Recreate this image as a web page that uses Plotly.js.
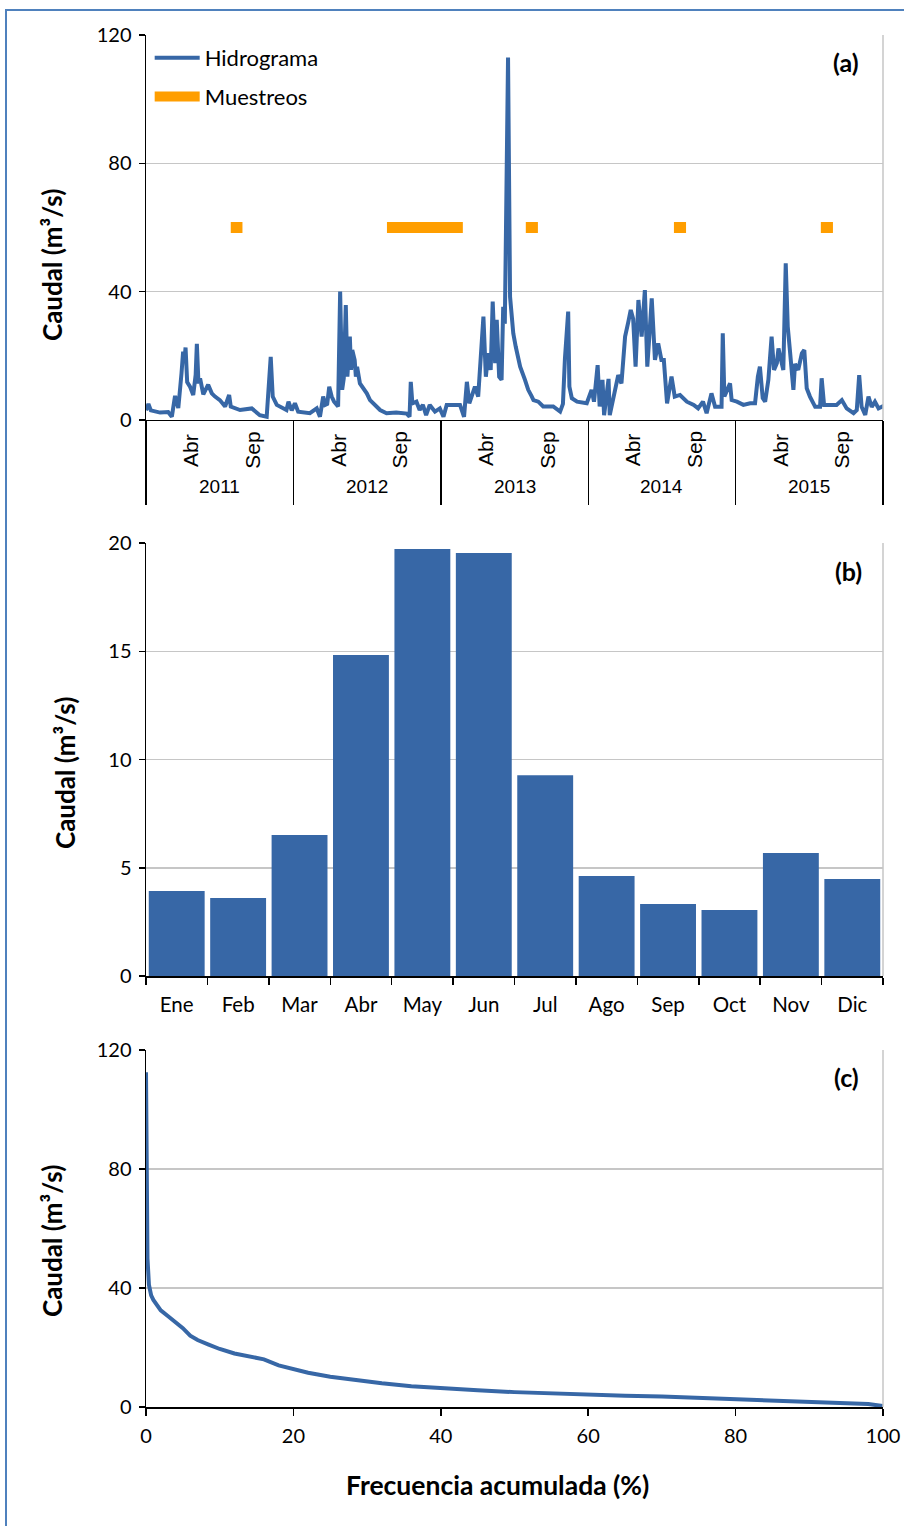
<!DOCTYPE html>
<html>
<head>
<meta charset="utf-8">
<script src="https://cdn.plot.ly/plotly-3.0.1.min.js"></script>
<style>
html,body{margin:0;padding:0;width:904px;height:1526px;overflow:hidden;background:#fff;}
#frame{position:absolute;left:5px;top:9px;width:1000px;height:1700px;border:2.5px solid #4f81bd;box-sizing:border-box;}
#chart{position:absolute;left:0;top:0;width:904px;height:1526px;}
</style>
</head>
<body>
<div id="frame"></div>
<div id="chart"></div>
<script>
// ---------- Panel (a): hidrograma diario ----------
const hydroDate = [
'2011-01-01','2011-01-07','2011-01-13','2011-02-05','2011-02-25','2011-03-06','2011-03-14','2011-03-22','2011-03-30','2011-04-03',
'2011-04-06','2011-04-09','2011-04-13','2011-04-20','2011-04-28','2011-05-04','2011-05-07','2011-05-11','2011-05-15','2011-05-23',
'2011-06-04','2011-06-13','2011-06-21','2011-07-03','2011-07-16','2011-07-26','2011-07-30','2011-08-22','2011-09-20','2011-10-10',
'2011-10-27','2011-11-06','2011-11-11','2011-11-21','2011-12-15','2011-12-20','2011-12-28',
'2012-01-05','2012-01-13','2012-02-11','2012-02-28','2012-03-07','2012-03-15','2012-03-20','2012-03-25','2012-03-30','2012-04-05',
'2012-04-11','2012-04-21','2012-04-26','2012-05-01','2012-05-05','2012-05-10','2012-05-14','2012-05-20','2012-05-23','2012-05-26',
'2012-06-01','2012-06-04','2012-06-07','2012-06-14','2012-07-01','2012-07-09','2012-07-21','2012-08-03','2012-08-19','2012-09-12',
'2012-10-08','2012-10-15','2012-10-18','2012-10-22','2012-11-01','2012-11-09','2012-11-17','2012-11-25','2012-12-04','2012-12-17',
'2012-12-29',
'2013-01-07','2013-01-15','2013-01-31','2013-02-17','2013-02-27','2013-03-06','2013-03-12','2013-03-26','2013-04-03','2013-04-16',
'2013-04-22','2013-04-28','2013-05-04','2013-05-09','2013-05-15','2013-05-19','2013-05-25','2013-05-31','2013-06-04','2013-06-08',
'2013-06-11','2013-06-16','2013-06-21','2013-06-25','2013-06-29','2013-07-05','2013-07-16','2013-07-28','2013-08-05','2013-08-13',
'2013-08-18','2013-08-30','2013-09-11','2013-10-06','2013-10-23','2013-10-30','2013-11-04','2013-11-12','2013-11-15','2013-11-21',
'2013-12-04','2013-12-28',
'2014-01-09','2014-01-15','2014-01-24','2014-01-29','2014-02-05','2014-02-09','2014-02-20','2014-02-23','2014-03-06','2014-03-16',
'2014-03-24','2014-04-02','2014-04-10','2014-04-16','2014-04-22','2014-04-28','2014-05-05','2014-05-13','2014-05-21','2014-05-27',
'2014-06-01','2014-06-07','2014-06-15','2014-06-23','2014-07-01','2014-07-07','2014-07-15','2014-07-26','2014-08-03','2014-08-16',
'2014-09-02','2014-09-19','2014-09-30','2014-10-12','2014-10-21','2014-11-02','2014-11-11','2014-11-27','2014-11-30','2014-12-04',
'2014-12-18','2014-12-22',
'2015-01-04','2015-01-20','2015-02-06','2015-02-18','2015-02-25','2015-03-02','2015-03-09','2015-03-15','2015-03-23','2015-03-31',
'2015-04-06','2015-04-13','2015-04-17','2015-04-23','2015-04-29','2015-05-05','2015-05-10','2015-05-16','2015-05-24','2015-05-28',
'2015-06-05','2015-06-14','2015-06-20','2015-06-26','2015-07-04','2015-07-17','2015-07-29','2015-08-02','2015-08-08','2015-08-23',
'2015-09-08','2015-09-21','2015-10-03','2015-10-20','2015-10-28','2015-11-03','2015-11-09','2015-11-18','2015-11-26','2015-12-04',
'2015-12-12','2015-12-21','2015-12-29','2015-12-31'
];
const hydroQ = [
3,5,3,2.3,2.5,1.0,7.5,3.7,14.6,21.3,
18,22.6,11.8,10.4,7.8,14,23.7,11.4,13,8,
11,8.3,7.3,6.2,4.2,7.8,4.2,3.1,3.6,1.5,
1.0,19.7,7.3,4.7,3.1,5.7,3.0,
5.2,2.6,2.1,3.6,1.0,7.3,4.7,5.0,10.4,7.3,
5.7,4.2,40,9.4,13,35.8,13.5,26,15.6,21.8,
18.7,13.5,16.6,11.4,8.3,6.2,4.7,3.1,2.1,2.3,
2.0,1.0,11.9,5.2,5.7,3.1,4.7,1.5,4.7,2.6,
3.6,
1.0,4.7,4.7,4.7,1.0,11.9,5.2,10.4,7.3,32.2,
13.5,20.8,15.6,36.9,17.7,31.2,13.5,12.5,35.3,30,
60.3,113,38.4,31.2,27,22.9,16.6,12.5,9.4,7.5,
6.2,5.7,4.2,4.2,2.6,5.0,19.2,33.8,10.4,6.8,
5.7,5.2,
9.4,5.7,17.1,4.2,12.5,1.5,12.8,1.5,8.3,14,
11.4,26,30.6,34.3,31.5,16.6,37.4,26,40.5,16.6,
26,37.9,18.7,23.9,18.7,18.7,5.2,13.5,7.3,7.8,
5.7,4.7,3.6,5.7,2.1,8.3,4.1,4.1,27,7.3,
11.4,6.2,
5.7,4.7,5.2,5.2,13.5,16.6,6.8,5.7,12.5,26,
15.6,17.7,22.3,18.7,15.6,48.8,29.1,20.8,9.4,17.5,
15.6,20.8,21.8,9.9,7.3,4.1,4.1,13,4.7,4.7,
4.7,6.2,3.6,2.1,3.1,14,4.1,1.6,7.3,4.1,
5.7,3.6,4.1,3.5
];
// Campañas de muestreo (inicio / fin), nivel de dibujo 60 m3/s
const muestreoDate = ['2011-07-30','2011-08-28',null,'2012-08-20','2013-02-24',null,'2013-07-30','2013-08-29',null,'2014-08-01','2014-08-31',null,'2015-07-31','2015-08-30'];
const muestreoQ    = [60,60,null,60,60,null,60,60,null,60,60,null,60,60];

// Eje temporal
const years      = ['2011','2012','2013','2014','2015'];
const yearBounds = ['2011-01-01','2012-01-01','2013-01-01','2014-01-01','2015-01-01','2016-01-01'];
const yearMid    = ['2011-07-02','2012-07-02','2013-07-02','2014-07-02','2015-07-02'];
const monthTickDate = ['2011-04-20','2011-09-20','2012-04-20','2012-09-20','2013-04-20','2013-09-20','2014-04-20','2014-09-20','2015-04-20','2015-09-20'];
const monthTickText = ['Abr','Sep','Abr','Sep','Abr','Sep','Abr','Sep','Abr','Sep'];

// ---------- Panel (b): caudal medio mensual ----------
const months   = ['Ene','Feb','Mar','Abr','May','Jun','Jul','Ago','Sep','Oct','Nov','Dic'];
const monthlyQ = [3.93,3.60,6.51,14.83,19.72,19.54,9.28,4.62,3.33,3.05,5.68,4.48];

// ---------- Panel (c): curva de duración de caudales ----------
const freqPct = [0,0.05,0.1,0.2,0.4,0.7,1.0,1.5,2.0,3.0,4.0,5.0,6.0,7.0,8.5,10,12,14,16,18,20,22,25,28,32,36,40,45,50,55,60,65,70,75,80,85,90,95,98,100];
const freqQ   = [112.5,90,65,50,41,37.5,36,34,32.5,30.5,28.5,26.5,24,22.5,21,19.5,18,17,16,14,12.8,11.5,10.2,9.2,8.0,7.0,6.3,5.6,5.0,4.5,4.1,3.8,3.5,3.1,2.7,2.3,1.9,1.4,1.0,0.3];

const FONT  = "Lato, 'Open Sans', sans-serif";
const ARIAL = "'Liberation Sans', Arial, sans-serif";
const BLUE = '#3767a6', ORANGE = '#ff9e00', GRID = '#c6c6c6';
const dateRange = [yearBounds[0], yearBounds[yearBounds.length-1]];

const traces = [
  {type:'scatter', mode:'lines', name:'Hidrograma', x:hydroDate, y:hydroQ, xaxis:'x', yaxis:'y',
   line:{color:BLUE, width:4}, legendgroup:'h'},
  {type:'scatter', mode:'lines', name:'Muestreos', x:muestreoDate, y:muestreoQ, xaxis:'x', yaxis:'y',
   connectgaps:false, line:{color:ORANGE, width:11}, legendgroup:'m'},
  {type:'bar', x:months, y:monthlyQ, xaxis:'x4', yaxis:'y2', marker:{color:BLUE}, showlegend:false},
  {type:'scatter', mode:'lines', x:freqPct, y:freqQ, xaxis:'x5', yaxis:'y3', line:{color:BLUE, width:4}, showlegend:false}
];

const yCommon = {ticks:'outside', ticklen:6, tickwidth:1.5, tickcolor:'#000', showline:true, linecolor:'#000', linewidth:1.5,
  gridcolor:GRID, gridwidth:1.5, zeroline:false, ticklabelstandoff:3, tickfont:{family:FONT, size:20, color:'#000'}, fixedrange:true};

// Etiquetas del eje temporal (meses rotados y años), situadas con la escala del eje x
const timeLabels = [];
monthTickDate.forEach((d, i) => timeLabels.push({text:monthTickText[i], x:d, xref:'x', yref:'y domain', y:-0.078,
  xanchor:'center', yanchor:'middle', textangle:-90, showarrow:false, font:{family:ARIAL, size:21, color:'#000'}}));
yearMid.forEach((d, i) => timeLabels.push({text:years[i], x:d, xref:'x', yref:'y domain', y:-0.174,
  xanchor:'center', yanchor:'middle', showarrow:false, font:{family:ARIAL, size:19, color:'#000'}}));

// Títulos de ejes (centrados como en el original de Excel)
const TITLE_FONT = {family:FONT, size:26, color:'#000'};
const axisTitles = [
  {text:'<b>Caudal (m³/s)</b>', xref:'paper', yref:'y domain',  x:-0.1275, y:0.4026, textangle:-90, xanchor:'center', yanchor:'middle', showarrow:false, font:TITLE_FONT},
  {text:'<b>Caudal (m³/s)</b>', xref:'paper', yref:'y2 domain', x:-0.1099, y:0.4688, textangle:-90, xanchor:'center', yanchor:'middle', showarrow:false, font:TITLE_FONT},
  {text:'<b>Caudal (m³/s)</b>', xref:'paper', yref:'y3 domain', x:-0.1275, y:0.465,  textangle:-90, xanchor:'center', yanchor:'middle', showarrow:false, font:TITLE_FONT},
  {text:'<b>Frecuencia acumulada (%)</b>', xref:'paper', yref:'y3 domain', x:0.4776, y:-0.2185, xanchor:'center', yanchor:'middle', showarrow:false, font:{family:FONT, size:26.5, color:'#000'}}
];

const layout = {
  width:904, height:1526,
  paper_bgcolor:'rgba(0,0,0,0)', plot_bgcolor:'rgba(0,0,0,0)',
  margin:{l:146, r:21, t:35, b:119},
  bargap:0.09,
  showlegend:true,
  legend:{x:0.005, y:0.9985, xanchor:'left', yanchor:'top', traceorder:'grouped', tracegroupgap:7, itemwidth:45,
          font:{family:FONT, size:22, color:'#000'}, bgcolor:'rgba(0,0,0,0)'},
  xaxis:{domain:[0,1], anchor:'y', type:'date', range:dateRange, tickvals:yearBounds, ticks:'outside', ticklen:84,
         tickwidth:1.5, tickcolor:'#000', showticklabels:false, showgrid:false, showline:true, linecolor:'#000',
         linewidth:1.5, zeroline:false},
  yaxis:Object.assign({}, yCommon, {domain:[0.7194,1], anchor:'x', range:[0,120], tickvals:[0,40,80,120]}),

  xaxis4:{domain:[0,1], anchor:'y2', type:'category', ticks:'outside', tickson:'boundaries', ticklen:7, tickwidth:1.5,
          tickcolor:'#000', showline:true, linecolor:'#000', linewidth:1.5, showgrid:false, zeroline:false,
          ticklabelstandoff:10, tickfont:{family:FONT, size:20.5, color:'#000'}},
  yaxis2:Object.assign({}, yCommon, {domain:[0.3141,0.6297], anchor:'x4', range:[0,20], tickvals:[0,5,10,15,20]}),

  xaxis5:{domain:[0,1], anchor:'y3', range:[0,100], tickvals:[0,20,40,60,80,100], ticks:'outside', ticklen:7,
          tickwidth:1.5, tickcolor:'#000', showline:true, linecolor:'#000', linewidth:1.5, showgrid:false, zeroline:false,
          ticklabelstandoff:3, tickfont:{family:FONT, size:20, color:'#000'}},
  yaxis3:Object.assign({}, yCommon, {domain:[0,0.2602], anchor:'x5', range:[0,120], tickvals:[0,40,80,120]}),

  shapes:[
    {type:'line', xref:'x domain', yref:'y domain', x0:1, x1:1, y0:0, y1:1, line:{color:GRID, width:1.5}},
    {type:'line', xref:'x4 domain', yref:'y2 domain', x0:1, x1:1, y0:0, y1:1, line:{color:GRID, width:1.5}},
    {type:'line', xref:'x5 domain', yref:'y3 domain', x0:1, x1:1, y0:0, y1:1, line:{color:GRID, width:1.5}}
  ],
  annotations:[
    {text:'<b>(a)</b>', xref:'x domain', yref:'y domain', x:0.95, y:0.93, xanchor:'center', yanchor:'middle', showarrow:false, font:{family:FONT, size:25, color:'#000'}},
    {text:'<b>(b)</b>', xref:'x4 domain', yref:'y2 domain', x:0.953, y:0.935, xanchor:'center', yanchor:'middle', showarrow:false, font:{family:FONT, size:25, color:'#000'}},
    {text:'<b>(c)</b>', xref:'x5 domain', yref:'y3 domain', x:0.95, y:0.924, xanchor:'center', yanchor:'middle', showarrow:false, font:{family:FONT, size:25, color:'#000'}}
  ].concat(timeLabels, axisTitles)
};

Plotly.newPlot('chart', traces, layout, {staticPlot:true, displayModeBar:false});
</script>
</body>
</html>
